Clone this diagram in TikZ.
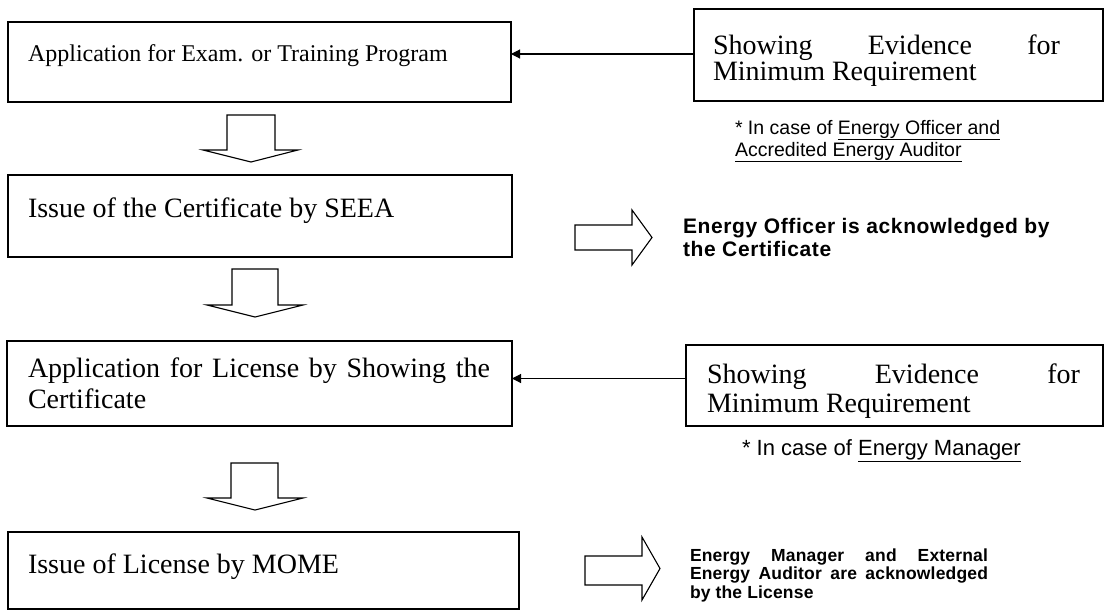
\documentclass[tikz,border=0pt]{standalone}
\usepackage{fontspec}
\setmainfont{Liberation Serif}
\setsansfont{Liberation Sans}
\newfontfamily\ackfont[LetterSpace=3]{Liberation Sans}
\newfontfamily\ackfontb[LetterSpace=1]{Liberation Sans}
\usetikzlibrary{arrows.meta}

\begin{document}
\begin{tikzpicture}[x=1pt,y=-1pt,
  stepbox/.style={draw,line width=1.3pt,inner sep=0pt,outer sep=0pt,anchor=north west},
  txt/.style={anchor=base west,inner sep=0pt,outer sep=0pt},
  blockarrow/.style={draw,line width=1.1pt,fill=white,line join=miter},
  feed/.style={line width=1.1pt,-{Triangle[length=9pt,width=9pt]}},
  note/.style={txt,font=\sffamily\fontsize{19.5}{22}\selectfont},
  ack/.style={txt,font=\ackfont\bfseries\fontsize{21}{23}\selectfont},
  ackb/.style={txt,font=\ackfontb\bfseries\fontsize{17.5}{18.5}\selectfont}]
\useasboundingbox[fill=white] (0,0) rectangle (1105,610);

% main flow boxes
\node[stepbox,minimum width=503pt,minimum height=80pt] (b1) at (8,22) {};
\node[stepbox,minimum width=504pt,minimum height=82pt] (b2) at (8,175) {};
\node[stepbox,minimum width=505pt,minimum height=85pt] (b3) at (7,341) {};
\node[stepbox,minimum width=511pt,minimum height=77pt] (b4) at (8,532) {};

% evidence boxes
\node[stepbox,minimum width=409pt,minimum height=92pt] (r1) at (694,9) {};
\node[stepbox,minimum width=417pt,minimum height=81pt] (r2) at (686,345) {};

% box texts
\node[txt,font=\fontsize{24}{28}\selectfont] (t1) at (28,62) {Application for Exam. or Training Program};
\node[txt,font=\fontsize{28}{32}\selectfont] (t2) at (28,217) {Issue of the Certificate by SEEA};
\node[txt,font=\fontsize{28}{31}\selectfont] (t3) at (28,377)
  {\parbox[t]{462pt}{Application for License by Showing the\linebreak Certificate}};
\node[txt,font=\fontsize{28}{32}\selectfont] (t4) at (28,573) {Issue of License by MOME};
\node[txt,font=\fontsize{28}{26}\selectfont] (rt1) at (713,55)
  {\parbox[t]{347pt}{Showing Evidence for\linebreak Minimum Requirement}};
\node[txt,font=\fontsize{28}{29}\selectfont] (rt2) at (707,383)
  {\parbox[t]{373pt}{Showing Evidence for\linebreak Minimum Requirement}};

% notes under the evidence boxes
\node[note] (n1) at (735,134)
  {\parbox[t]{340pt}{\raggedright * In case of \underline{Energy Officer and}\\\underline{Accredited Energy Auditor}}};
\node[note,font=\sffamily\fontsize{22}{24}\selectfont] (n2) at (742,455) {* In case of \underline{Energy Manager}};

% acknowledgement texts
\node[ack] (a1) at (683,233)
  {\parbox[t]{400pt}{\raggedright Energy Officer is acknowledged by\\the Certificate}};
\node[ackb] (a2) at (690,561)
  {\parbox[t]{298pt}{Energy Manager and External\linebreak Energy Auditor are acknowledged\linebreak by the License}};

% evidence feeds
\draw[feed] ([yshift=1pt]r1.west) -- ([yshift=1pt]r1.west -| b1.east);
\draw[feed] ([yshift=7pt]r2.west) -- ([yshift=7pt]r2.west -| b3.east);

% downward block arrows
\draw[blockarrow] (227,115) -- (275,115) -- (275,150) -- (298,150) -- (251,162) -- (203,150) -- (227,150) -- cycle;
\draw[blockarrow] (232,269) -- (278,269) -- (278,305) -- (303,305) -- (255,317) -- (207,305) -- (232,305) -- cycle;
\draw[blockarrow] (231,463) -- (278,463) -- (278,498) -- (303,498) -- (255,510) -- (207,498) -- (231,498) -- cycle;

% rightward block arrows
\draw[blockarrow] (575,225) -- (632,225) -- (632,210) -- (652,237.5) -- (632,265) -- (632,250) -- (575,250) -- cycle;
\draw[blockarrow] (585,556) -- (642,556) -- (642,537) -- (660,568.5) -- (642,600) -- (642,585) -- (585,585) -- cycle;
\end{tikzpicture}
\end{document}
